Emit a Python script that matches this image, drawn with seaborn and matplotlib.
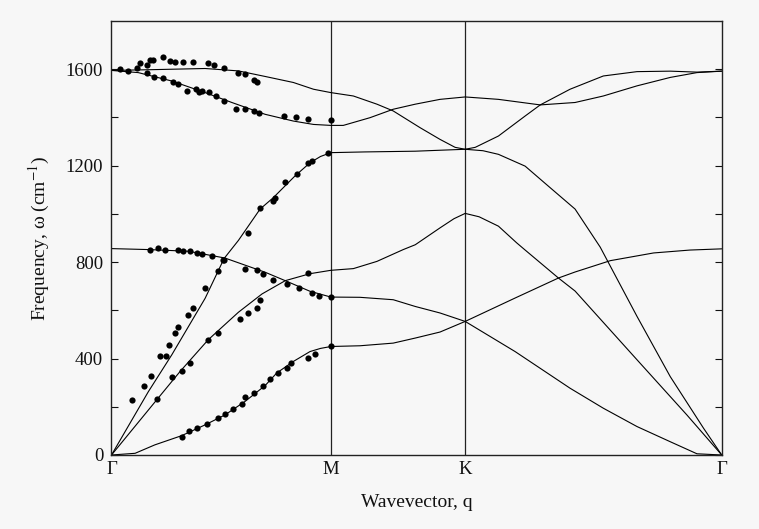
import numpy as np
import pandas as pd
import matplotlib
matplotlib.use("Agg")
import matplotlib.pyplot as plt
import seaborn as sns

# High-symmetry points along the path Γ-M-K-Γ (wavevector in units of 2π/a)
sym_labels = ["Γ", "M", "K", "Γ"]
sym_pos = [0.0, 0.567, 0.914, 1.577]

# Calculated dispersion branches (q, frequency in cm^-1)
za_q = [0.0, 0.061, 0.112, 0.181, 0.242, 0.293, 0.345, 0.397, 0.427, 0.470, 0.513, 0.540, 0.567,
        0.642, 0.728, 0.785, 0.849, 0.914, 1.043, 1.185, 1.271, 1.358, 1.444, 1.513, 1.577]
za_f = [0, 7, 42, 80, 125, 166, 222, 288, 340, 388, 429, 442, 450,
        453, 464, 485, 510, 554, 429, 277, 194, 118, 55, 5, 0]

zo_q = [0.0, 0.095, 0.199, 0.293, 0.397, 0.449, 0.513, 0.567,
        0.642, 0.728, 0.785, 0.849, 0.914, 1.043, 1.155, 1.198, 1.289, 1.401, 1.495, 1.577]
zo_f = [856, 852, 845, 817, 758, 723, 679, 655,
        654, 644, 616, 589, 554, 651, 734, 759, 806, 838, 850, 855]

ta_q = [0.0, 0.117, 0.177, 0.250, 0.328, 0.389, 0.449, 0.513, 0.567,
        0.625, 0.686, 0.754, 0.785, 0.849, 0.885, 0.914, 0.950, 1.000, 1.047, 1.069,
        1.155, 1.198, 1.358, 1.487, 1.577]
ta_f = [0, 229, 346, 478, 592, 668, 723, 752, 766,
        773, 803, 852, 872, 942, 980, 1002, 988, 949, 880, 850,
        734, 680, 395, 166, 0]

la_q = [0.0, 0.095, 0.156, 0.242, 0.291, 0.328, 0.384, 0.418, 0.474, 0.513, 0.540, 0.567,
        0.655, 0.785, 0.914, 0.960, 1.000, 1.069, 1.129, 1.198, 1.263, 1.358, 1.444, 1.530, 1.577]
la_f = [0, 262, 416, 650, 815, 890, 1020, 1067, 1157, 1212, 1238, 1254,
        1257, 1260, 1268, 1262, 1247, 1198, 1115, 1020, 862, 575, 325, 111, 0]

to_q = [0.0, 0.069, 0.156, 0.242, 0.311, 0.397, 0.470, 0.522, 0.567,
        0.599, 0.668, 0.728, 0.785, 0.849, 0.914, 1.000, 1.108, 1.198, 1.271, 1.358, 1.444, 1.513, 1.577]
to_f = [1595, 1586, 1551, 1503, 1462, 1413, 1385, 1371, 1367,
        1367, 1399, 1434, 1455, 1475, 1485, 1475, 1452, 1462, 1489, 1531, 1566, 1586, 1592]

lo_q = [0.0, 0.100, 0.242, 0.328, 0.397, 0.470, 0.522, 0.567,
        0.625, 0.686, 0.728, 0.797, 0.849, 0.888, 0.914, 0.940, 1.000, 1.069, 1.108, 1.185,
        1.271, 1.358, 1.444, 1.513, 1.577]
lo_f = [1595, 1598, 1603, 1593, 1570, 1545, 1517, 1503,
        1489, 1455, 1427, 1358, 1309, 1276, 1268, 1276, 1323, 1406, 1452, 1517,
        1572, 1590, 1592, 1588, 1592]

# Measured points along Γ-M
za_dot_q = [0.181, 0.199, 0.220, 0.246, 0.276, 0.293, 0.315, 0.337, 0.345, 0.367, 0.392,
            0.410, 0.431, 0.453, 0.463, 0.509, 0.526, 0.567]
za_dot_f = [76, 100, 114, 129, 152, 169, 190, 211, 242, 256, 288,
            315, 340, 360, 381, 402, 420, 450]

zo_dot_q = [0.100, 0.121, 0.138, 0.173, 0.186, 0.203, 0.220, 0.233, 0.259, 0.289, 0.345,
            0.375, 0.392, 0.418, 0.453, 0.485, 0.518, 0.535, 0.567]
zo_dot_f = [852, 859, 852, 850, 848, 848, 838, 835, 827, 810, 773,
            769, 751, 727, 709, 693, 672, 660, 655]

ta_dot_q = [0.117, 0.157, 0.181, 0.203, 0.250, 0.276, 0.331, 0.354, 0.375, 0.384, 0.509]
ta_dot_f = [232, 322, 347, 380, 475, 507, 565, 590, 611, 644, 755]

la_dot_q = [0.052, 0.085, 0.102, 0.125, 0.141, 0.149, 0.164, 0.173, 0.197, 0.211, 0.242,
            0.276, 0.291, 0.354, 0.384, 0.418, 0.423, 0.449, 0.479, 0.509, 0.518, 0.560]
la_dot_f = [229, 288, 328, 411, 409, 457, 506, 529, 579, 610, 693,
            762, 810, 921, 1025, 1053, 1067, 1132, 1164, 1209, 1219, 1251]

to_dot_q = [0.091, 0.110, 0.132, 0.158, 0.173, 0.196, 0.218, 0.226, 0.234, 0.252, 0.269,
            0.290, 0.322, 0.345, 0.367, 0.381, 0.446, 0.478, 0.509, 0.566]
to_dot_f = [1586, 1568, 1563, 1547, 1538, 1510, 1517, 1506, 1510, 1506, 1489,
            1468, 1437, 1434, 1427, 1420, 1406, 1402, 1395, 1389]

lo_dot_q = [0.022, 0.043, 0.065, 0.074, 0.091, 0.100, 0.108, 0.132, 0.151, 0.164, 0.186,
            0.211, 0.250, 0.264, 0.290, 0.328, 0.344, 0.367, 0.375]
lo_dot_f = [1600, 1593, 1607, 1625, 1617, 1639, 1639, 1652, 1634, 1630, 1630,
            1630, 1625, 1617, 1604, 1586, 1582, 1556, 1549]

branches = {
    "ZA": (za_q, za_f), "ZO": (zo_q, zo_f), "TA": (ta_q, ta_f),
    "LA": (la_q, la_f), "TO": (to_q, to_f), "LO": (lo_q, lo_f),
}
measured = {
    "ZA": (za_dot_q, za_dot_f), "ZO": (zo_dot_q, zo_dot_f), "TA": (ta_dot_q, ta_dot_f),
    "LA": (la_dot_q, la_dot_f), "TO": (to_dot_q, to_dot_f), "LO": (lo_dot_q, lo_dot_f),
}

curves = pd.concat(
    [pd.DataFrame({"q": q, "freq": f, "branch": name}) for name, (q, f) in branches.items()],
    ignore_index=True,
)
points = pd.concat(
    [pd.DataFrame({"q": q, "freq": f, "branch": name}) for name, (q, f) in measured.items()],
    ignore_index=True,
)

sns.set_theme(style="ticks")
plt.rcParams["font.family"] = ["Liberation Serif", "DejaVu Serif"]
plt.rcParams["mathtext.fontset"] = "stix"

bg = "#f7f7f7"
fig = plt.figure(figsize=(7.59, 5.29), dpi=100, facecolor=bg)
ax = fig.add_axes([0.1469, 0.1399, 0.8040, 0.8204])
ax.set_facecolor(bg)

sns.lineplot(data=curves, x="q", y="freq", units="branch", estimator=None, sort=False,
             color="black", linewidth=0.8, ax=ax)
sns.scatterplot(data=points, x="q", y="freq", color="black", s=20, linewidth=0, ax=ax,
                zorder=3)

for pos in sym_pos[1:-1]:
    ax.axvline(pos, color="#222222", linewidth=0.9, zorder=1)

ax.set_xlim(sym_pos[0], sym_pos[-1])
ax.set_ylim(0, 1800)

yt = list(range(0, 1601, 200))
ax.set_yticks(yt)
ax.set_yticklabels([str(v) if v % 400 == 0 else "" for v in yt])
ax.set_xticks(sym_pos)
ax.set_xticklabels(sym_labels)

ax.tick_params(axis="y", direction="in", length=5, width=0.8, right=True,
               labelsize=13.5, pad=6, colors="#111111")
ax.tick_params(axis="x", length=0, labelsize=13.5, pad=4, colors="#111111")

for sp in ax.spines.values():
    sp.set_color("#222222")
    sp.set_linewidth(1.0)

ax.set_xlabel("Wavevector, q", fontsize=14, labelpad=12, color="#111111")
ax.set_ylabel(r"Frequency, ω (cm$^{-1}$)", fontsize=14, labelpad=10, color="#111111")

fig.savefig("out.png", dpi=100, facecolor=bg)
